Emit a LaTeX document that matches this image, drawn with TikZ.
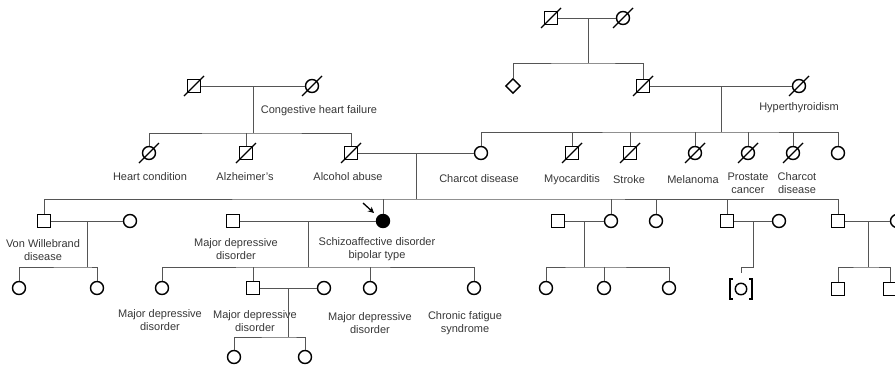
\documentclass[tikz,border=0pt]{standalone}
\usepackage{fontspec}
\setmainfont{Liberation Sans}
\usetikzlibrary{shapes.geometric,arrows.meta}
\definecolor{linegray}{RGB}{85,85,85}
\definecolor{textgray}{RGB}{55,55,55}
\begin{document}
\begin{tikzpicture}[x=1pt,y=-1pt,
  sym/.style={draw=black,line width=1.4pt,inner sep=0pt,fill=white},
  male/.style={sym,rectangle,minimum size=12.5pt},
  female/.style={sym,circle,minimum size=13pt},
  unknown/.style={sym,diamond,minimum size=15pt},
  affected/.style={fill=black},
  conn/.style={draw=linegray,line width=1pt},
  slash/.style={draw=black,line width=1.4pt},
  lbl/.style={font=\fontsize{11}{13}\selectfont,text=textgray,align=center,inner sep=0pt}]
\useasboundingbox (0,0) rectangle (895,367);

% ---------- generation I ----------
\node[male]   (ggf) at (551,18) {};
\node[female] (ggm) at (623,18) {};
\node[male]   (gfL) at (194,86) {};
\node[female] (gmL) at (312,86) {};
\node[lbl]    (lcong) at (319,111) {Congestive heart failure};

% ---------- generation II ----------
\node[unknown] (unk) at (513,86) {};
\node[male]    (gfR) at (643,86) {};
\node[female]  (gmR) at (799,86) {};
\node[lbl]     (lhyp) at (799,108) {Hyperthyroidism};

\node[female] (a1) at (149,153) {};
\node[male]   (a2) at (246,153) {};
\node[male]   (fa) at (351,153) {};
\node[lbl] (la1) at (150,177) {Heart condition};
\node[lbl] (la2) at (245,177) {Alzheimer\symbol{39}s};
\node[lbl] (lfa) at (348,177) {Alcohol abuse};

\node[female] (mo) at (481,153) {};
\node[male]   (b1) at (572,153) {};
\node[male]   (b2) at (630,153) {};
\node[female] (b3) at (695,153) {};
\node[female] (b4) at (748,153) {};
\node[female] (b5) at (793,153) {};
\node[female] (b6) at (838,153) {};
\node[lbl] (lmo) at (479,179) {Charcot disease};
\node[lbl] (lb1) at (572,180) {Myocarditis};
\node[lbl] (lb2) at (629,180) {Stroke};
\node[lbl] (lb3) at (693,180) {Melanoma};
\node[lbl] (lb4) at (748,183) {Prostate\\cancer};
\node[lbl] (lb5) at (797,183) {Charcot\\disease};

% ---------- generation III ----------
\node[male]   (c1)  at (44,221) {};
\node[female] (c1w) at (130,221) {};
\node[male]   (hus) at (233,221) {};
\node[female,affected] (pro) at (383,221) {};
\node[male]   (c3h) at (558,221) {};
\node[female] (c3)  at (611,221) {};
\node[female] (c4)  at (656,221) {};
\node[male]   (c5)  at (727,221) {};
\node[female] (c5w) at (779,221) {};
\node[male]   (c6)  at (838,221) {};
\node[female] (c6w) at (897,221) {};
\node[lbl] (lc1)  at (43,250) {Von Willebrand\\disease};
\node[lbl] (lhus) at (236,249.5) {Major depressive\\disorder};
\node[lbl] (lpro) at (377,249.5) {Schizoaffective disorder\\bipolar type};

% ---------- generation IV ----------
\node[female] (d1) at (19,288) {};
\node[female] (d2) at (97,288) {};
\node[female] (e1) at (162,288) {};
\node[male]   (e2) at (253,288) {};
\node[female] (e2w) at (324,288) {};
\node[female] (e3) at (370,288) {};
\node[female] (e4) at (474,288) {};
\node[female] (f1) at (546,288) {};
\node[female] (f2) at (604,288) {};
\node[female] (f3) at (669,288) {};
\node[female,minimum size=11.5pt] (g1) at (741,289) {};
\node[male]   (h1) at (838,289) {};
\node[male]   (h2) at (890,289) {};
\node[lbl] (le1) at (160,320.5) {Major depressive\\disorder};
\node[lbl] (le2) at (255,321) {Major depressive\\disorder};
\node[lbl] (le3) at (370,323) {Major depressive\\disorder};
\node[lbl] (le4) at (465,323) {Chronic fatigue\\syndrome};

% ---------- generation V ----------
\node[female] (k1) at (234,357) {};
\node[female] (k2) at (305,357) {};

% ---------- deceased slashes ----------
\foreach \n in {ggf,ggm,gfL,gmL,gfR,gmR,a1,a2,fa,b1,b2,b3,b4,b5}
  \draw[slash] (\n.center) ++(-10,10) -- ++(20,-20);

% ---------- adoption brackets ----------
\draw[slash,line width=1.2pt] (g1.center) ++(-8,-10) -- ++(-3,0) -- ++(0,20) -- ++(3,0);
\draw[slash,line width=1.2pt] (g1.center) ++(8,-10) -- ++(3,0) -- ++(0,20) -- ++(-3,0);

% ---------- couple lines ----------
\draw[conn] (ggf) -- (ggm);
\draw[conn] (gfL) -- (gmL);
\draw[conn] (gfR) -- (gmR);
\draw[conn] (fa) -- (mo);
\draw[conn] (c1) -- (c1w);
\draw[conn] (hus) -- (pro);
\draw[conn] (c3h) -- (c3);
\draw[conn] (c5) -- (c5w);
\draw[conn] (c6) -- (c6w);
\draw[conn] (e2) -- (e2w);

% ---------- descent lines ----------
\coordinate (m1) at (588,18);   \coordinate (s1) at (588,63);
\coordinate (m2) at (253,86);   \coordinate (s2) at (253,133);
\coordinate (m3) at (721,86);   \coordinate (s3) at (721,132);
\coordinate (m4) at (416,153);  \coordinate (s4) at (416,199);
\coordinate (m5) at (87,221);   \coordinate (s5) at (87,267);
\coordinate (m6) at (308,221);  \coordinate (s6) at (308,267);
\coordinate (m7) at (584,221);  \coordinate (s7) at (584,267);
\coordinate (m8) at (753,221);  \coordinate (s8) at (753,267);
\coordinate (m9) at (868,221);  \coordinate (s9) at (868,267);
\coordinate (m10) at (288,288); \coordinate (s10) at (288,337);
\coordinate (ad) at (741,273);

\draw[conn] (m1) -- (s1);
\draw[conn] (unk.north) |- (s1) -| (gfR.north);

\draw[conn] (m2) -- (s2);
\draw[conn] (a1.north) |- (s2) -| (fa.north);
\draw[conn] (a2.north) -- (a2.north |- s2);

\draw[conn] (m3) -- (s3);
\draw[conn] (mo.north) |- (s3) -| (b6.north);
\foreach \n in {b1,b2,b3,b4,b5} \draw[conn] (\n.north) -- (\n.north |- s3);

\draw[conn] (m4) -- (s4);
\draw[conn] (c1.north) |- (s4) -| (c6.north);
\foreach \n in {pro,c3,c4,c5} \draw[conn] (\n.north) -- (\n.north |- s4);

\draw[conn] (m5) -- (s5);
\draw[conn] (d1.north) |- (s5) -| (d2.north);

\draw[conn] (m6) -- (s6);
\draw[conn] (e1.north) |- (s6) -| (e4.north);
\foreach \n in {e2,e3} \draw[conn] (\n.north) -- (\n.north |- s6);

\draw[conn] (m7) -- (s7);
\draw[conn] (f1.north) |- (s7) -| (f3.north);
\draw[conn] (f2.north) -- (f2.north |- s7);

\draw[conn] (m8) -- (s8) -| (ad);

\draw[conn] (m9) -- (s9);
\draw[conn] (h1.north) |- (s9) -| (h2.north);

\draw[conn] (m10) -- (s10);
\draw[conn] (k1.north) |- (s10) -| (k2.north);

% ---------- proband arrow ----------
\coordinate (arS) at (363,203);
\coordinate (arE) at (374,213);
\draw[line width=1.3pt,-{Stealth[length=6pt,width=6pt]}] (arS) -- (arE);
\end{tikzpicture}
\end{document}
